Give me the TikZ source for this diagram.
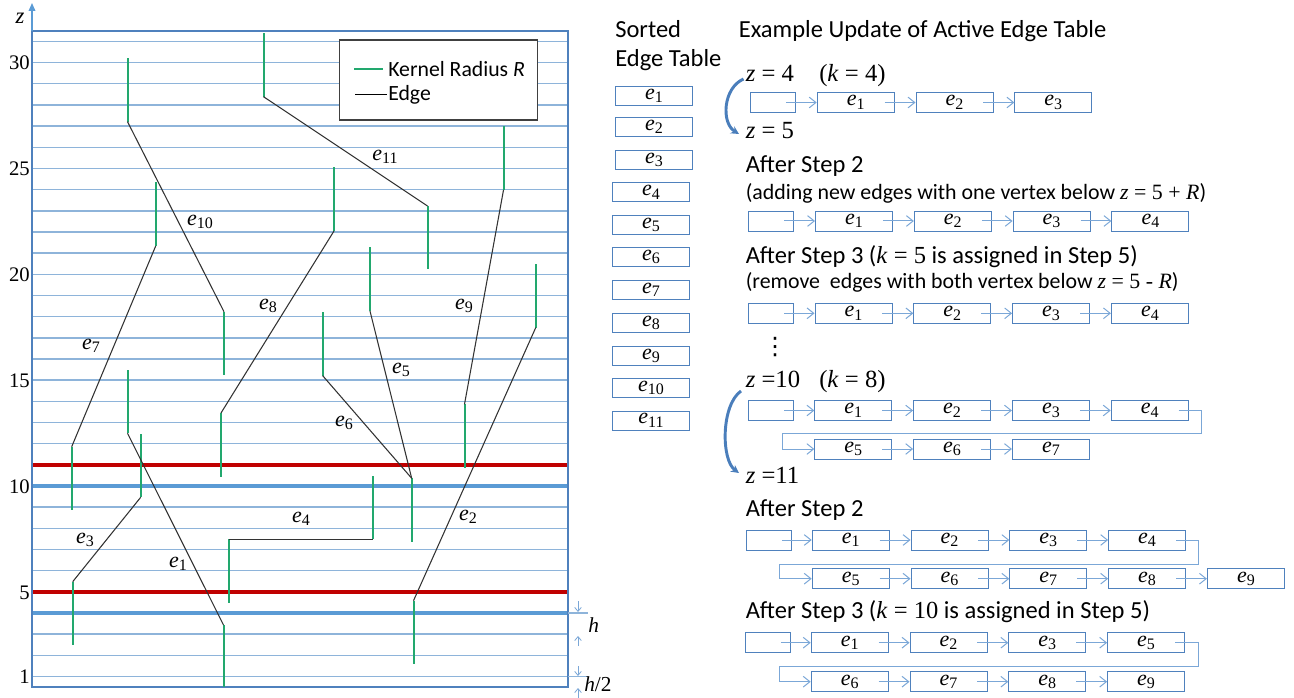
\documentclass[tikz,border=0pt]{standalone}
\usepackage{fontspec}
\setmainfont{Carlito}
\newfontfamily\tms{Liberation Serif}
\newfontfamily\djv{DejaVu Sans}
\usetikzlibrary{arrows.meta,calc}
\definecolor{gridc}{HTML}{8EB4DA}
\definecolor{thickc}{HTML}{5B9BD5}
\definecolor{redc}{HTML}{C00000}
\definecolor{framec}{HTML}{4F81BD}
\definecolor{greenc}{HTML}{22A86E}
\definecolor{edgec}{HTML}{333333}
\definecolor{boxc}{HTML}{4F81BD}
\definecolor{arrc}{HTML}{7BA7D7}
\definecolor{curvc}{HTML}{4A7EBB}
\newcommand\ev[1]{{\tms\fontsize{16.5}{18}\selectfont\itshape e}\raisebox{-2.6pt}{\tms\fontsize{12}{12}\selectfont #1}}
\newcommand\mth[1]{{\tms #1}}
\newcommand\chain[3]{\foreach \i in {#2,...,#3}{\pgfmathtruncatemacro\k{\i-1}\draw[aarr] ([xshift=-7.5pt]#1\k.east) -- (#1\i.west);}}
\newcommand\boxrow[4]{\foreach \l [count=\i] in {#4}{\node[ebx] (#1\i) at ({#2+(\i-1)*98.8},#3) {\ev{\l}};}}
\begin{document}
\begin{tikzpicture}[x=0.75pt,y=-0.75pt,
  gridl/.style={draw=gridc,line width=1.1pt},
  thickl/.style={draw=thickc,line width=2.4pt},
  redl/.style={draw=redc,line width=2.6pt},
  framel/.style={draw=framec,line width=1.8pt},
  greenl/.style={draw=greenc,line width=1.5pt},
  edgel/.style={draw=edgec,line width=0.8pt},
  elab/.style={inner sep=0pt},
  ztick/.style={anchor=east,inner sep=0pt,font=\tms\fontsize{15.5}{16}\selectfont},
  ebx/.style={draw=boxc,line width=0.7pt,anchor=west,minimum width=57.75pt,minimum height=15pt,inner sep=0pt},
  sbx/.style={draw=boxc,line width=0.7pt,anchor=west,minimum width=33.75pt,minimum height=15pt,inner sep=0pt},
  tbx/.style={draw=boxc,line width=0.7pt,minimum width=57.75pt,minimum height=14.25pt,inner sep=0pt},
  aarr/.style={draw=arrc,line width=0.75pt,-{Straight Barb[length=5pt,width=8pt]}},
  harr/.style={draw=arrc,line width=0.6pt,-{Straight Barb[length=3pt,width=5pt]}},
  curv/.style={draw=curvc,line width=2.2pt,-{Stealth[length=6pt,width=6pt]}},
  txt/.style={anchor=base west,inner sep=0pt,font=\fontsize{18.4}{20}\selectfont},
  txts/.style={anchor=base west,inner sep=0pt,font=\fontsize{16.4}{18}\selectfont},
  ztxt/.style={anchor=base west,inner sep=0pt,font=\tms\fontsize{18.5}{20}\selectfont},
]
\useasboundingbox (0,0) rectangle (1294,698);
% grid
\foreach \z in {1,...,31}{\draw[gridl] (32,{486+(10-\z)*21.17}) -- (568,{486+(10-\z)*21.17});}
\draw[thickl] (32,486) -- (568,486);
\draw[thickl] (32,613) -- (568,613);
\draw[redl] (32,464.8) -- (568,464.8);
\draw[redl] (32,591.9) -- (568,591.9);
\draw[framel] (32,30.8) rectangle (568,687);
\draw[draw=thickc,line width=1pt,-{Triangle[length=6pt,width=5pt]}] (32,31) -- (32,3);
% extension lines and h
\draw[gridl] (568,613) -- (588,613);
\draw[gridl] (568,676.7) -- (588,676.7);
\draw[harr] (578,601) -- (578,612);
\draw[harr] (578,646) -- (578,636);
\draw[harr] (578,666) -- (578,676);
\draw[harr] (578,698) -- (578,688);
\node[inner sep=0pt,anchor=west,font=\tms\fontsize{16}{16}\selectfont\itshape] (hl) at (588,625) {h};
\node[inner sep=0pt,anchor=west,font=\tms\fontsize{16}{16}\selectfont] (h2l) at (584,684) {\textit{h}/2};
% axis labels
\node[inner sep=0pt,font=\tms\fontsize{17}{17}\selectfont\itshape] (zl) at (20,18) {z};
\node[ztick] (t30) at (30,63) {30};
\node[ztick] (t25) at (30,169) {25};
\node[ztick] (t20) at (30,275) {20};
\node[ztick] (t15) at (30,381) {15};
\node[ztick] (t10) at (30,487) {10};
\node[ztick] (t5) at (30,593) {5};
\node[ztick] (t1) at (30,677) {1};
% vertices
\coordinate (e1t) at (127.5,433.3); \coordinate (e1b) at (223.5,625);
\coordinate (e2t) at (535.7,327.7); \coordinate (e2b) at (413.5,600.7);
\coordinate (e3t) at (140.7,497.3); \coordinate (e3b) at (72.7,581.7);
\coordinate (e4l) at (229,539.3);   \coordinate (e4r) at (372.7,539.3);
\coordinate (e5t) at (370,311);     \coordinate (e5b) at (411.7,478.3);
\coordinate (e6t) at (322.7,375.7);
\coordinate (e7t) at (155.7,246);   \coordinate (e7b) at (71.7,446.7);
\coordinate (e8t) at (334,231);     \coordinate (e8b) at (221,413);
\coordinate (e9t) at (503.5,190);   \coordinate (e9b) at (464.5,404.3);
\coordinate (e10t) at (127.5,121.7); \coordinate (e10b) at (224,311.7);
\coordinate (e11t) at (263.5,96.7); \coordinate (e11b) at (427.5,206);
% green kernel lines
\foreach \v in {e1t,e2t,e3t,e4r,e5t,e6t,e7t,e8t,e9t,e10t,e11t}{\draw[greenl] (\v) -- ++(0,-63.5);}
\foreach \v in {e2b,e3b,e4l,e5b,e7b,e8b,e9b,e10b,e11b}{\draw[greenl] (\v) -- ++(0,63.5);}
\draw[greenl] (e1b) -- ++(0,62);
% edges
\draw[edgel] (e1t) -- (e1b);
\draw[edgel] (e2t) -- (e2b);
\draw[edgel] (e3t) -- (e3b);
\draw[edgel] (e4l) -- (e4r);
\draw[edgel] (e5t) -- (e5b);
\draw[edgel] (e6t) -- (e5b);
\draw[edgel] (e7t) -- (e7b);
\draw[edgel] (e8t) -- (e8b);
\draw[edgel] (e9t) -- (e9b);
\draw[edgel] (e10t) -- (e10b);
\draw[edgel] (e11t) -- (e11b);
% edge labels
\node[elab] (l1) at (178,564) {\ev{1}};
\node[elab] (l2) at (468,517) {\ev{2}};
\node[elab] (l3) at (85,540) {\ev{3}};
\node[elab] (l4) at (301,519) {\ev{4}};
\node[elab] (l5) at (401,370) {\ev{5}};
\node[elab] (l6) at (344,423) {\ev{6}};
\node[elab] (l7) at (91,346) {\ev{7}};
\node[elab] (l8) at (268,306) {\ev{8}};
\node[elab] (l9) at (464,306) {\ev{9}};
\node[elab] (l10) at (200,222) {\ev{10}};
\node[elab] (l11) at (385,157) {\ev{11}};
% legend
\draw[draw=black!75,line width=0.8pt,fill=white] (339.3,40) rectangle (537.7,120);
\draw[greenl] (354.3,69) -- (383.3,69);
\draw[draw=black,line width=0.8pt] (355,94.3) -- (387,94.3);
\node[anchor=west,inner sep=0pt,font=\fontsize{16.3}{18}\selectfont] (lg1) at (388,69) {Kernel Radius \textit{R}};
\node[anchor=west,inner sep=0pt,font=\fontsize{16.3}{18}\selectfont] (lg2) at (388,95) {Edge};
% sorted edge table
\node[txt] (st1) at (615,37.5) {Sorted};
\node[txt] (st2) at (615,66.5) {Edge Table};
\node[tbx] (s1) at (654,96) {\ev{1}};
\node[tbx] (s2) at (654,126.7) {\ev{2}};
\node[tbx] (s3) at (654,159.7) {\ev{3}};
\node[tbx] (s4) at (651,192.3) {\ev{4}};
\node[tbx] (s5) at (651,225) {\ev{5}};
\node[tbx] (s6) at (651,257) {\ev{6}};
\node[tbx] (s7) at (651,290) {\ev{7}};
\node[tbx] (s8) at (651,323) {\ev{8}};
\node[tbx] (s9) at (651,356) {\ev{9}};
\node[tbx] (s10) at (651,388) {\ev{10}};
\node[tbx] (s11) at (651,420.5) {\ev{11}};
% right side texts
\node[txt] (title) at (738.5,37.5) {Example Update of Active Edge Table};
\node[ztxt] (za) at (745.5,81.7) {\textit{z} = 4};
\node[ztxt] (ka) at (819,81.7) {(\textit{k} = 4)};
\node[ztxt] (zb) at (745.5,139) {\textit{z} = 5};
\node[txt] (s2a) at (745.5,173) {After Step 2};
\node[txts] (s2b) at (745.5,200) {(adding new edges with one vertex below \mth{\textit{z} = 5 + \textit{R}})};
\node[txt] (s3a) at (745.5,264) {After Step 3 (\mth{\textit{k} = 5} is assigned in Step 5)};
\node[txts] (s3b) at (745.5,288.5) {(remove\ \ edges with both vertex below \mth{\textit{z} = 5 - \textit{R}})};
\node[inner sep=0pt,font=\djv\fontsize{18}{18}\selectfont] (vd) at (775,347) {⋮};
\node[ztxt] (zc) at (745.5,387.7) {\textit{z} =10};
\node[ztxt] (kc) at (819,387.7) {(\textit{k} = 8)};
\node[ztxt] (zd) at (745.5,483) {\textit{z} =11};
\node[txt] (s2c) at (745.5,516) {After Step 2};
\node[txt] (s3c) at (745.5,618.3) {After Step 3 (\mth{\textit{k} = 10} is assigned in Step 5)};
% curved arrows
\coordinate (ca1) at (743.5,79); \coordinate (ca2) at (739,134);
\coordinate (cb1) at (741,391); \coordinate (cb2) at (739,473);
\draw[curv] (ca1) .. controls (723,88) and (721,123) .. (ca2);
\draw[curv] (cb1) .. controls (721,405) and (721,460) .. (cb2);
% active edge table rows
\node[sbx] (a0) at (750,102.5) {};
\boxrow{a}{816.7}{102.5}{1,2,3}
\chain{a}{1}{3}
\node[sbx] (b0) at (748.3,221) {};
\boxrow{b}{815}{221}{1,2,3,4}
\chain{b}{1}{4}
\node[sbx] (c0) at (748.3,313.3) {};
\boxrow{c}{814.5}{313.3}{1,2,3,4}
\chain{c}{1}{4}
\node[sbx] (d0) at (748.3,410.5) {};
\boxrow{d}{814.3}{410.5}{1,2,3,4}
\chain{d}{1}{4}
\boxrow{x}{814.3}{449}{5,6,7}
\chain{x}{2}{3}
\coordinate (wd1) at (1201.7,433.3); \coordinate (wd2) at (782.7,433.3);
\draw[aarr] ([xshift=-7.5pt]d4.east) -| (wd1) -- (wd2) |- (x1.west);
\node[sbx] (f0) at (746,540) {};
\boxrow{f}{811.7}{540}{1,2,3,4}
\chain{f}{1}{4}
\boxrow{y}{811.7}{578.7}{5,6,7,8,9}
\chain{y}{2}{5}
\coordinate (wf1) at (1198.3,564); \coordinate (wf2) at (779,564);
\draw[aarr] ([xshift=-7.5pt]f4.east) -| (wf1) -- (wf2) |- (y1.west);
\node[sbx] (g0) at (745,642.7) {};
\boxrow{g}{810.7}{642.7}{1,2,3,5}
\chain{g}{1}{4}
\boxrow{w}{810.7}{681.7}{6,7,8,9}
\chain{w}{2}{4}
\coordinate (wg1) at (1198.3,666.7); \coordinate (wg2) at (779,666.7);
\draw[aarr] ([xshift=-7.5pt]g4.east) -| (wg1) -- (wg2) |- (w1.west);
\end{tikzpicture}
\end{document}
